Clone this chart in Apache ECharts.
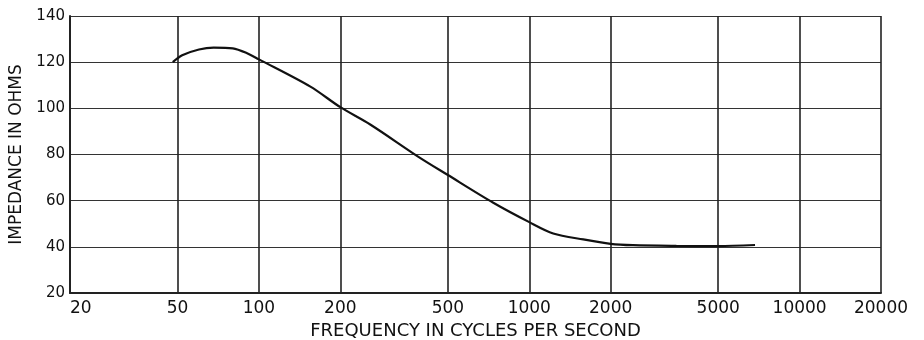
<!DOCTYPE html>
<html>
<head>
<meta charset="utf-8">
<script src="https://cdn.jsdelivr.net/npm/echarts@6/dist/echarts.min.js"></script>
<style>
  html, body { margin: 0; padding: 0; background: #fff; }
  #chart { width: 924px; height: 340px; }
</style>
</head>
<body>
<div id="chart"></div>
<script>
// frequency ticks (log spaced grid)
const freqTicks = [20, 50, 100, 200, 500, 1000, 2000, 5000, 10000, 20000];
const impTicks = [20, 40, 60, 80, 100, 120, 140];

// curve
const freq = [48, 52, 60, 68, 80, 90, 100, 155, 200, 258, 389, 500, 736, 1000, 1226, 1584, 2000, 2420, 3500, 5000, 6840];
const impedance = [120, 123, 125.5, 126.3, 126, 124, 121.2, 109.4, 100.5, 93.0, 79, 71.1, 59.1, 50.7, 45.8, 43.2, 41.3, 40.7, 40.4, 40.3, 40.8];

const lg = v => Math.log10(v);
const fontFam = '"DejaVu Sans", sans-serif';

const chart = echarts.init(document.getElementById('chart'), null, { renderer: 'canvas' });

const option = {
    backgroundColor: '#fff',
    animation: false,
    grid: { left: 70, right: 43, top: 16, bottom: 47, outerBoundsMode: 'none', containLabel: false },
    xAxis: {
        type: 'value',
        min: lg(20),
        max: lg(20000),
        name: 'FREQUENCY IN CYCLES PER SECOND',
        nameLocation: 'middle',
        nameGap: 23,
        nameTextStyle: { color: '#111', fontSize: 18, fontFamily: fontFam },
        axisLine: { show: true, lineStyle: { color: '#222', width: 2 } },
        axisTick: { show: false, customValues: freqTicks.map(lg) },
        axisLabel: {
            customValues: freqTicks.map(lg),
            formatter: v => String(Math.round(Math.pow(10, v))),
            color: '#111',
            fontSize: 17,
            fontFamily: fontFam,
            margin: 7,
            alignMinLabel: 'left',
            showMinLabel: true,
            showMaxLabel: true
        },
        splitLine: { show: true, lineStyle: { color: '#222', width: 1.6 } }
    },
    yAxis: {
        type: 'value',
        min: impTicks[0],
        max: impTicks[impTicks.length - 1],
        interval: 20,
        name: 'IMPEDANCE IN OHMS',
        nameLocation: 'middle',
        nameGap: 41,
        nameTextStyle: { color: '#111', fontSize: 17, fontFamily: fontFam },
        axisLine: { show: true, lineStyle: { color: '#222', width: 2 } },
        axisTick: { show: false },
        axisLabel: {
            color: '#111',
            fontSize: 15,
            fontFamily: fontFam,
            margin: 5
        },
        splitLine: { show: true, lineStyle: { color: '#333', width: 1.2 } }
    },
    series: [
        {
            type: 'line',
            data: freq.map((f, i) => [lg(f), impedance[i]]),
            smooth: 0.3,
            showSymbol: false,
            lineStyle: { color: '#111', width: 2.2 }
        }
    ]
};

chart.setOption(option);
</script>
</body>
</html>
